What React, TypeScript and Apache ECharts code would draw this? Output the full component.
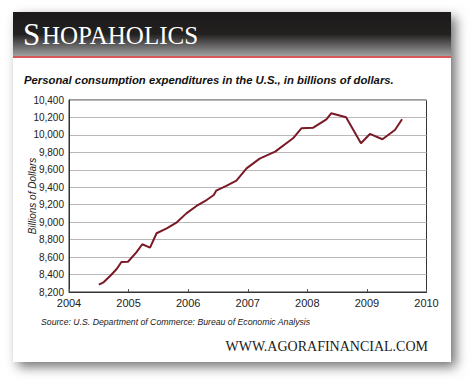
import React, { useEffect, useRef } from "react";
import * as echarts from "echarts";

const years: number[] = [
  2004.5, 2004.58, 2004.69, 2004.8, 2004.88, 2004.99, 2005.13, 2005.23, 2005.36,
  2005.47, 2005.64, 2005.81, 2005.97, 2006.14, 2006.31, 2006.43, 2006.47, 2006.64,
  2006.81, 2006.98, 2007.2, 2007.46, 2007.76, 2007.9, 2008.1, 2008.32, 2008.4,
  2008.65, 2008.9, 2009.05, 2009.26, 2009.47, 2009.59,
];
const spending: number[] = [
  8284, 8311, 8383, 8463, 8544, 8547, 8655, 8747, 8708, 8873, 8930, 8999, 9101,
  9186, 9254, 9312, 9361, 9415, 9476, 9617, 9728, 9808, 9961, 10076, 10083,
  10179, 10248, 10202, 9904, 10011, 9950, 10057, 10179,
];
const title = "Shopaholics";
const subtitle = "Personal consumption expenditures in the U.S., in billions of dollars.";
const yAxisName = "Billions of Dollars";
const source = "Source: U.S. Department of Commerce: Bureau of Economic Analysis";
const site = "WWW.AGORAFINANCIAL.COM";

export default function App() {
  const ref = useRef<HTMLDivElement>(null);
  useEffect(() => {
    if (!ref.current) return;
    const chart = echarts.init(ref.current, null, { renderer: "svg" });
    const sans = "'Liberation Sans', Arial, sans-serif";
    const serif = "'Liberation Serif', 'Times New Roman', serif";
    const upper = title.toUpperCase();
    chart.setOption({
      animation: false,
      backgroundColor: "#ffffff",
      graphic: [
        {
          type: "rect",
          z: -10,
          shape: { x: 13, y: 12, width: 438, height: 350 },
          style: {
            fill: "#ffffff",
            shadowBlur: 12,
            shadowOffsetX: 5,
            shadowOffsetY: 5,
            shadowColor: "rgba(0,0,0,0.55)",
          },
        },
        {
          type: "rect",
          z: -9,
          shape: { x: 13, y: 12, width: 438, height: 44 },
          style: {
            fill: new echarts.graphic.LinearGradient(0, 0, 0, 1, [
              { offset: 0, color: "#1c1a1a" },
              { offset: 0.5, color: "#221f1f" },
              { offset: 1, color: "#a0a0a0" },
            ]),
          },
        },
        {
          type: "rect",
          z: -9,
          shape: { x: 13, y: 56, width: 438, height: 2 },
          style: { fill: "#d65a5a" },
        },
        {
          type: "text",
          x: 23,
          y: 34,
          style: {
            text: upper.charAt(0),
            fill: "#ffffff",
            font: `31px ${serif}`,
            textVerticalAlign: "middle",
          },
        },
        {
          type: "text",
          x: 42,
          y: 35.5,
          style: {
            text: upper.slice(1),
            fill: "#ffffff",
            font: `25px ${serif}`,
            textVerticalAlign: "middle",
          },
        },
        {
          type: "text",
          x: 24,
          y: 80,
          style: {
            text: subtitle,
            fill: "#111111",
            font: `italic bold 11.3px ${sans}`,
            textVerticalAlign: "middle",
          },
        },
        {
          type: "text",
          x: 41,
          y: 322,
          style: {
            text: source,
            fill: "#222222",
            font: `italic 8.7px ${sans}`,
            textVerticalAlign: "middle",
          },
        },
        {
          type: "text",
          x: 428,
          y: 346,
          style: {
            text: site,
            fill: "#1a1a1a",
            font: `14px ${serif}`,
            textAlign: "right",
            textVerticalAlign: "middle",
          },
        },
      ],
      grid: {
        left: 69,
        right: 43.5,
        top: 100,
        bottom: 89,
        show: true,
        borderColor: "#333333",
        borderWidth: 1,
        backgroundColor: "transparent",
      },
      xAxis: {
        type: "value",
        min: 2004,
        max: 2010,
        interval: 1,
        axisLine: { show: true, lineStyle: { color: "#333333", width: 1 } },
        axisTick: { show: true, inside: true, length: 3, lineStyle: { color: "#555555" } },
        splitLine: { show: false },
        axisLabel: {
          color: "#222222",
          fontFamily: sans,
          fontSize: 11,
          margin: 5,
          formatter: (v: number) => String(v),
        },
      },
      yAxis: {
        type: "value",
        min: 8200,
        max: 10400,
        interval: 200,
        name: yAxisName,
        nameLocation: "middle",
        nameGap: 32,
        nameMoveOverlap: false,
        nameTextStyle: {
          color: "#222222",
          fontFamily: sans,
          fontSize: 10,
          fontStyle: "italic",
        },
        axisLine: { show: true, lineStyle: { color: "#333333", width: 1 } },
        axisTick: { show: false },
        splitLine: { show: true, lineStyle: { color: "#b8b8b8", width: 1 } },
        axisLabel: {
          color: "#222222",
          fontFamily: sans,
          fontSize: 10,
          margin: 5,
        },
      },
      series: [
        {
          type: "line",
          data: years.map((y, i) => [y, spending[i]]),
          showSymbol: false,
          symbol: "none",
          lineStyle: { color: "#7a1a26", width: 2 },
        },
      ],
    });
    return () => chart.dispose();
  }, []);
  return (
    <div
      ref={ref}
      style={{ position: "fixed", left: 0, top: 0, width: 470, height: 381 }}
    />
  );
}
